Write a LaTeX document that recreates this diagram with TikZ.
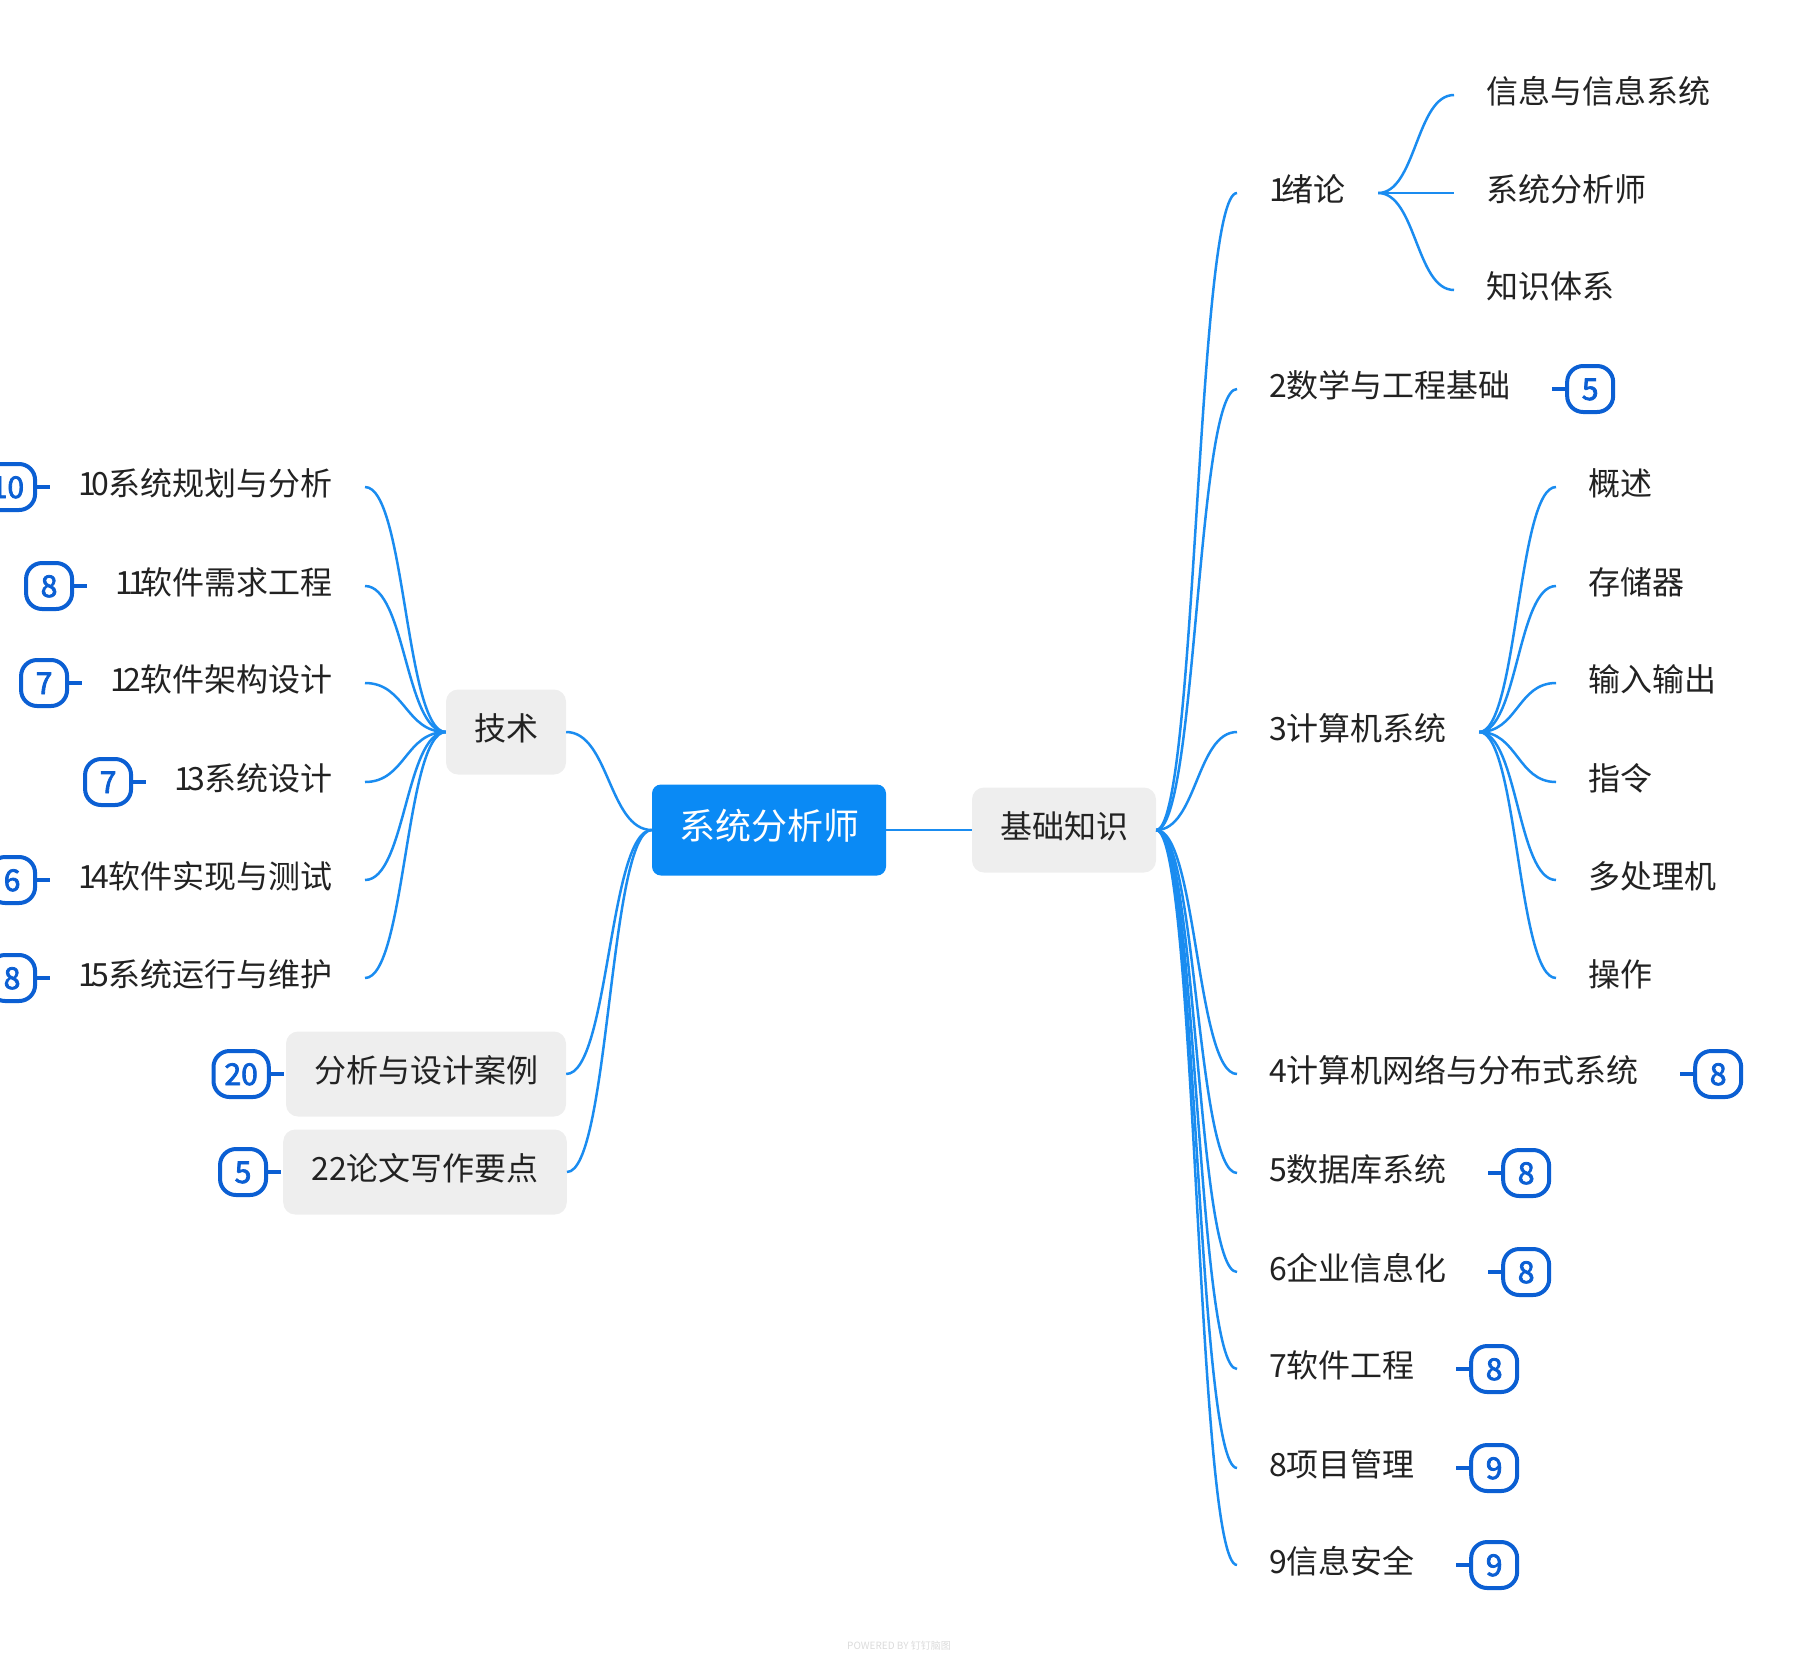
\documentclass[tikz,border=0pt]{standalone}
\usepackage{fontspec}
\setmainfont{Noto Sans CJK SC}
\newfontfamily\badgefont[FakeBold=2.6]{Noto Sans CJK SC}
\usepackage{xcolor}
\usepackage{tikz}
\usetikzlibrary{positioning, calc}
\definecolor{linkblue}{HTML}{1A8CF0}
\definecolor{rootblue}{HTML}{0A8AF5}
\definecolor{badgeblue}{HTML}{0B5FD3}
\definecolor{boxgray}{HTML}{EEEEEE}
\definecolor{inkgray}{HTML}{222222}

\begin{document}
\begin{tikzpicture}[x=1pt, y=-1pt,
  every node/.style={font=\fontsize{32}{38}\selectfont, text=inkgray, text height=24pt, text depth=8pt},
  root/.style={fill=rootblue, text=white, rounded corners=9pt, font=\fontsize{36}{42}\selectfont,
    text height=27pt, text depth=9pt, minimum width=234pt, minimum height=91pt},
  topic/.style={fill=boxgray, rounded corners=12pt, inner xsep=28pt, minimum height=85pt},
  leaf/.style={inner xsep=32pt, inner ysep=0pt},
  badge/.style={draw=badgeblue, line width=4pt, rounded corners=16pt, text=badgeblue,
    font=\badgefont\fontsize{30}{34}\selectfont, text height=22pt, text depth=0pt,
    minimum width=46pt, minimum height=46pt, inner xsep=11pt, inner ysep=2pt},
  link/.style={draw=linkblue, line width=2.5pt},
  stub/.style={draw=badgeblue, line width=3.5pt},
  branch/.style={to path={.. controls ($(\tikztostart)!0.5!(\tikztotarget|-\tikztostart)$)
    and ($(\tikztotarget)!0.5!(\tikztostart|-\tikztotarget)$) .. (\tikztotarget)}}]
  \useasboundingbox (0,0) rectangle (1798,1660);

  \node[root] (root) at (769,830) {系统分析师};
  \node[topic] (base) at (1064,830) {基础知识};
  \node[topic] (tech) at (506,732) {技术};
  \node[topic] (cases) at (426,1074) {分析与设计案例};
  \node[topic] (essay) at (425,1172) {22论文写作要点};

  \node[leaf, anchor=west] (c1) at (1237,193) {1\kern-5pt 绪论};
  \node[leaf, anchor=west] (c2) at (1237,389) {2数学与工程基础};
  \node[leaf, anchor=west] (c3) at (1237,732) {3计算机系统};
  \node[leaf, anchor=west] (c4) at (1237,1074) {4计算机网络与分布式系统};
  \node[leaf, anchor=west] (c5) at (1237,1173) {5数据库系统};
  \node[leaf, anchor=west] (c6) at (1237,1272) {6企业信息化};
  \node[leaf, anchor=west] (c7) at (1237,1369) {7软件工程};
  \node[leaf, anchor=west] (c8) at (1237,1468) {8项目管理};
  \node[leaf, anchor=west] (c9) at (1237,1565) {9信息安全};

  \node[leaf, anchor=west] (c1a) at (1454,95) {信息与信息系统};
  \node[leaf, anchor=west] (c1b) at (1454,193) {系统分析师};
  \node[leaf, anchor=west] (c1c) at (1454,290) {知识体系};

  \node[leaf, anchor=west] (c3a) at (1556,487) {概述};
  \node[leaf, anchor=west] (c3b) at (1556,586) {存储器};
  \node[leaf, anchor=west] (c3c) at (1556,683) {输入输出};
  \node[leaf, anchor=west] (c3d) at (1556,782) {指令};
  \node[leaf, anchor=west] (c3e) at (1556,880) {多处理机};
  \node[leaf, anchor=west] (c3f) at (1556,978) {操作};

  \node[leaf, anchor=east] (t10) at (365,487) {1\kern-5pt 0系统规划与分析};
  \node[leaf, anchor=east] (t11) at (365,586) {1\kern-5pt 1\kern-5pt 软件需求工程};
  \node[leaf, anchor=east] (t12) at (365,683) {1\kern-5pt 2软件架构设计};
  \node[leaf, anchor=east] (t13) at (365,782) {1\kern-5pt 3系统设计};
  \node[leaf, anchor=east] (t14) at (365,880) {1\kern-5pt 4软件实现与测试};
  \node[leaf, anchor=east] (t15) at (365,978) {1\kern-5pt 5系统运行与维护};

  \node[badge, right=22pt of c2] (b2) {5};
  \node[badge, right=22pt of c4] (b4) {8};
  \node[badge, right=22pt of c5] (b5) {8};
  \node[badge, right=22pt of c6] (b6) {8};
  \node[badge, right=22pt of c7] (b7) {8};
  \node[badge, right=22pt of c8] (b8) {9};
  \node[badge, right=22pt of c9] (b9) {9};
  \node[badge, left=9pt of t10] (b10) {10};
  \node[badge, left=9pt of t11] (b11) {8};
  \node[badge, left=9pt of t12] (b12) {7};
  \node[badge, left=9pt of t13] (b13) {7};
  \node[badge, left=9pt of t14] (b14) {6};
  \node[badge, left=9pt of t15] (b15) {8};
  \node[badge, left=15pt of cases] (b20) {20};
  \node[badge, left=15pt of essay] (b22) {5};

  \draw[link] (root.east) -- (base.west);
  \draw[link] (root.west) to[branch] (tech.east);
  \draw[link] (root.west) to[branch] (cases.east);
  \draw[link] (root.west) to[branch] (essay.east);

  \draw[link] (base.east) to[branch] (c1.west);
  \draw[link] (base.east) to[branch] (c2.west);
  \draw[link] (base.east) to[branch] (c3.west);
  \draw[link] (base.east) to[branch] (c4.west);
  \draw[link] (base.east) to[branch] (c5.west);
  \draw[link] (base.east) to[branch] (c6.west);
  \draw[link] (base.east) to[branch] (c7.west);
  \draw[link] (base.east) to[branch] (c8.west);
  \draw[link] (base.east) to[branch] (c9.west);

  \draw[link] (c1.east) to[branch] (c1a.west);
  \draw[link] (c1.east) -- (c1b.west);
  \draw[link] (c1.east) to[branch] (c1c.west);

  \draw[link] (c3.east) to[branch] (c3a.west);
  \draw[link] (c3.east) to[branch] (c3b.west);
  \draw[link] (c3.east) to[branch] (c3c.west);
  \draw[link] (c3.east) to[branch] (c3d.west);
  \draw[link] (c3.east) to[branch] (c3e.west);
  \draw[link] (c3.east) to[branch] (c3f.west);

  \draw[link] (tech.west) to[branch] (t10.east);
  \draw[link] (tech.west) to[branch] (t11.east);
  \draw[link] (tech.west) to[branch] (t12.east);
  \draw[link] (tech.west) to[branch] (t13.east);
  \draw[link] (tech.west) to[branch] (t14.east);
  \draw[link] (tech.west) to[branch] (t15.east);

  \draw[stub] (b2.west) -- ++(-13,0);
  \draw[stub] (b4.west) -- ++(-13,0);
  \draw[stub] (b5.west) -- ++(-13,0);
  \draw[stub] (b6.west) -- ++(-13,0);
  \draw[stub] (b7.west) -- ++(-13,0);
  \draw[stub] (b8.west) -- ++(-13,0);
  \draw[stub] (b9.west) -- ++(-13,0);
  \draw[stub] (b10.east) -- ++(13,0);
  \draw[stub] (b11.east) -- ++(13,0);
  \draw[stub] (b12.east) -- ++(13,0);
  \draw[stub] (b13.east) -- ++(13,0);
  \draw[stub] (b14.east) -- ++(13,0);
  \draw[stub] (b15.east) -- ++(13,0);
  \draw[stub] (b20.east) -- ++(13,0);
  \draw[stub] (b22.east) -- ++(13,0);

  \node[font=\fontsize{10}{12}\selectfont, text=black!14, text height=7pt, text depth=2pt] (mark) at (899,1647) {POWERED BY 钉钉脑图};
\end{tikzpicture}
\end{document}
